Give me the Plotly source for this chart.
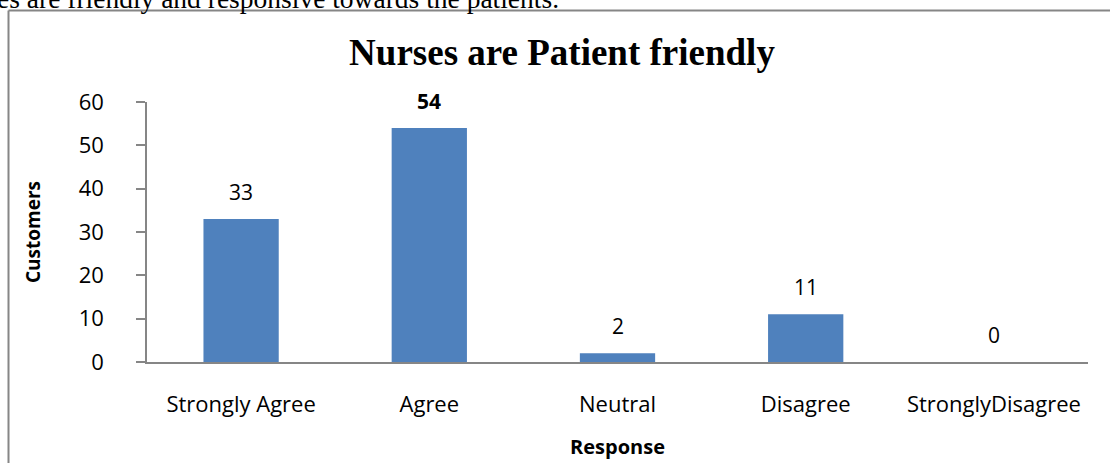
import plotly.graph_objects as go

# survey responses
categories = ["Strongly Agree", "Agree", "Neutral", "Disagree", "StronglyDisagree"]
customers = [33, 54, 2, 11, 0]
bold_label = [False, True, False, False, False]

BAR = "#4F81BD"
AXIS = "#868686"
SANS = "'Open Sans', sans-serif"
SERIF = "'Liberation Serif', 'Times New Roman', serif"

# plot area in pixels, used to map frame / caption into paper coords
L, R, T, B = 147, 1088, 102, 362


def px(x):
    return (x - L) / (R - L)


def py(y):
    return (B - y) / (B - T)


fig = go.Figure()
fig.add_trace(go.Bar(x=categories, y=customers, width=0.4,
                     marker=dict(color=BAR, line=dict(width=0)),
                     hoverinfo="x+y"))

# value labels above bars
for c, v, b in zip(categories, customers, bold_label):
    fig.add_annotation(x=c, y=v, text=f"<b>{v}</b>" if b else str(v),
                       showarrow=False, yanchor="bottom", yshift=11,
                       font=dict(family=SANS, size=21, color="#000"))

# caption text cut off at the top of the page
fig.add_annotation(xref="paper", yref="paper", x=px(-5), y=py(-2),
                   xanchor="left", yanchor="middle", showarrow=False,
                   text="es are friendly and responsive towards the patients.",
                   font=dict(family=SERIF, size=27.5, color="#000"))

# chart frame (left + top edges visible)
fig.add_shape(type="line", xref="paper", yref="paper",
              x0=px(8.5), x1=px(1120), y0=py(10.5), y1=py(10.5),
              line=dict(color=AXIS, width=2))
fig.add_shape(type="line", xref="paper", yref="paper",
              x0=px(8.5), x1=px(8.5), y0=py(10.5), y1=py(480),
              line=dict(color=AXIS, width=2))

fig.update_layout(
    width=1110, height=463,
    margin=dict(l=L, r=1110 - R, t=T, b=463 - B, autoexpand=False),
    paper_bgcolor="white", plot_bgcolor="white",
    showlegend=False, bargap=0.6,
    title=dict(text="<b>Nurses are Patient friendly</b>", x=562 / 1110, xanchor="center",
               y=1 - 52 / 463, yanchor="middle",
               font=dict(family=SERIF, size=37, color="#000")),
    xaxis=dict(showline=True, linecolor=AXIS, linewidth=2, ticks="",
               automargin=False,
               tickfont=dict(family=SANS, size=22, color="#000"),
               ticklabelstandoff=22,
               title=dict(text="<b>Response</b>", standoff=23,
                          font=dict(family=SANS, size=20, color="#000"))),
    yaxis=dict(range=[0, 60], dtick=10, showgrid=False, zeroline=False,
               automargin=False,
               showline=True, linecolor=AXIS, linewidth=1.5,
               ticks="outside", ticklen=9, tickcolor=AXIS, tickwidth=1.5,
               tickfont=dict(family=SANS, size=22, color="#000"),
               ticklabelstandoff=28,
               title=dict(text="<b>Customers</b>", standoff=33,
                          font=dict(family=SANS, size=19, color="#000"))),
)

# drop the browser's default page margin so the figure sits at (0, 0)
fig.write_html("out.html", config={"displayModeBar": False},
               post_script="document.body.style.margin='0';")
